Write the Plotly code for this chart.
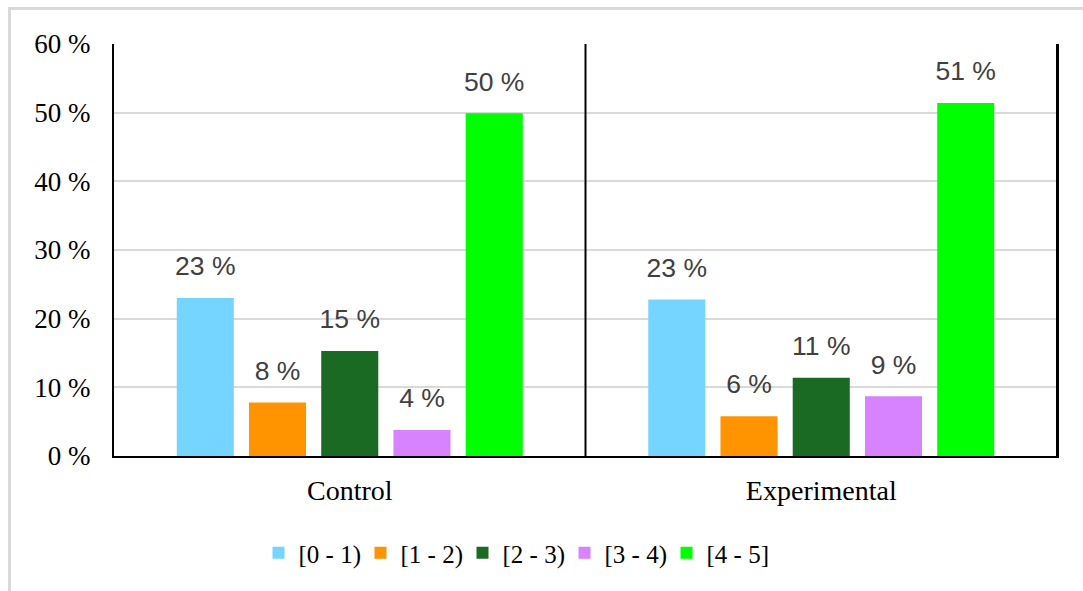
import plotly.graph_objects as go

# Share of students per score band, by group
groups = ["Control", "Experimental"]
bands = ["[0 - 1)", "[1 - 2)", "[2 - 3)", "[3 - 4)", "[4 - 5]"]
control = [23.0, 7.8, 15.3, 3.8, 49.9]
experimental = [22.8, 5.8, 11.4, 8.7, 51.4]
y_ticks = [0, 10, 20, 30, 40, 50, 60]
y_tick_labels = ["0 %", "10 %", "20 %", "30 %", "40 %", "50 %", "60 %"]

colors = ["#75D5FF", "#FF9300", "#1B6A24", "#D783FF", "#00FF00"]

W, H = 1083, 591
M_L, M_R, M_T, M_B = 114, 26, 44, 135
LABEL_PAD = 2.0  # data units between a bar top and its value label
SERIF = "Liberation Serif, Times New Roman, serif"
SANS = "Liberation Sans, Arial, sans-serif"

fig = go.Figure()

for i, band in enumerate(bands):
    vals = [control[i], experimental[i]]
    fig.add_trace(go.Bar(
        x=groups, y=vals, name=band, offsetgroup=str(i),
        marker=dict(color=colors[i], line=dict(width=0)),
        hoverinfo="x+y+name",
    ))

# Value labels: transparent bars sharing each series' slot, text placed above
for i, band in enumerate(bands):
    vals = [control[i], experimental[i]]
    fig.add_trace(go.Bar(
        x=groups, y=[LABEL_PAD] * len(vals), base=vals, offsetgroup=str(i),
        customdata=vals, texttemplate="%{customdata:.0f} %",
        textposition="outside", constraintext="none", cliponaxis=False,
        textfont=dict(family=SANS, size=26.5, color="#404040"),
        marker=dict(color="rgba(0,0,0,0)", line=dict(width=0)),
        showlegend=False, hoverinfo="skip",
    ))

plot_w = W - M_L - M_R
plot_h = H - M_T - M_B

shapes = [
    # divider between the two groups
    dict(type="line", xref="x", yref="y", x0=0.5, x1=0.5, y0=0, y1=60,
         line=dict(color="black", width=2)),
    # right edge of the plot frame
    dict(type="line", xref="paper", yref="paper", x0=1, x1=1, y0=0, y1=1,
         line=dict(color="black", width=2)),
    # outer chart-area frame
    dict(type="rect", xref="paper", yref="paper",
         x0=(9.5 - M_L) / plot_w, x1=(W + 20 - M_L) / plot_w,
         y0=-(M_B + 20) / plot_h, y1=(M_T - 8.5) / plot_h + 1,
         line=dict(color="#D9D9D9", width=3), fillcolor="rgba(0,0,0,0)", layer="below"),
]

fig.update_layout(
    width=W, height=H,
    margin=dict(l=M_L, r=M_R, t=M_T, b=M_B),
    paper_bgcolor="white", plot_bgcolor="white",
    barmode="group", bargap=0.234, bargroupgap=0.21,
    font=dict(family=SERIF, size=25, color="black"),
    showlegend=True,
    legend=dict(
        orientation="h", x=0.5 - 72 / plot_w, xanchor="center",
        y=-97 / plot_h, yanchor="middle",
        font=dict(family=SERIF, size=25, color="black"),
        itemwidth=30, entrywidth=57, traceorder="normal", bgcolor="rgba(0,0,0,0)",
    ),
    shapes=shapes,
)

fig.update_yaxes(
    range=[0, 60], tickvals=y_ticks, ticktext=y_tick_labels,
    showgrid=True, gridcolor="#D9D9D9", gridwidth=2,
    showline=True, linecolor="black", linewidth=2, mirror=True,
    ticks="", ticklabelstandoff=16, zeroline=False,
    tickfont=dict(family=SERIF, size=27, color="black"),
)
fig.update_xaxes(
    showline=True, linecolor="black", linewidth=2, mirror=False,
    ticks="", ticklabelstandoff=8, showgrid=False,
    tickfont=dict(family=SERIF, size=28, color="black"),
)

fig.write_html("out.html")
